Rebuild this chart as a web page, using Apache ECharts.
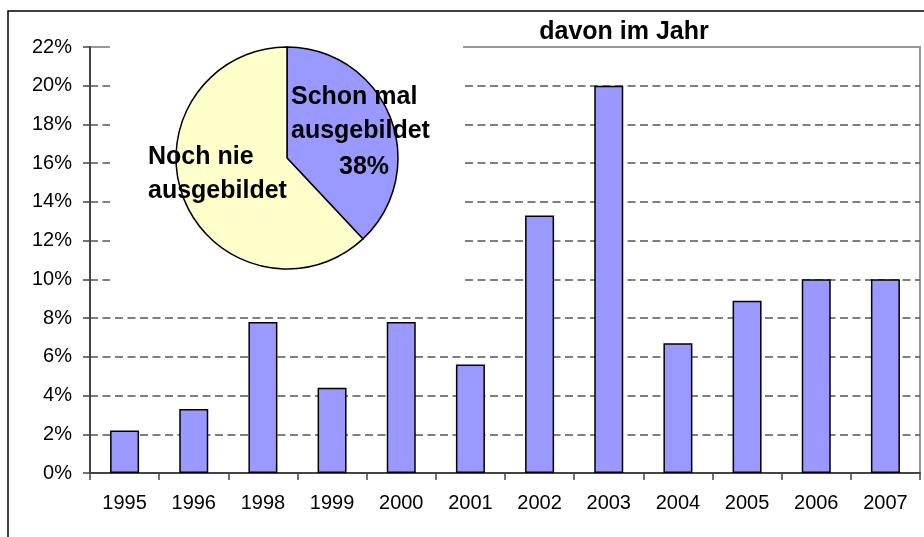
<!DOCTYPE html>
<html lang="de">
<head>
    <meta charset="UTF-8">
    <title>davon im Jahr</title>
    <script src="https://cdn.jsdelivr.net/npm/echarts@6/dist/echarts.min.js"></script>
    <style>
        html, body { margin: 0; padding: 0; background: #fff; }
    </style>
</head>
<body>
<!-- Container mit fester Größe für ECharts -->
<div id="main" style="width: 924px;height:537px;"></div>
<script type="text/javascript">
    // Jahre und Anteile (in %)
    var years = ['1995', '1996', '1998', '1999', '2000', '2001', '2002', '2003', '2004', '2005', '2006', '2007'];
    var shares = [2.2, 3.3, 7.8, 4.4, 7.8, 5.6, 13.3, 20, 6.7, 8.9, 10, 10];
    var yTicks = [0, 22, 2]; // min, max, interval

    // Kreisdiagramm
    var pieNames = ['Schon mal ausgebildet', 'Noch nie ausgebildet'];
    var pieValues = [38, 62];
    var pieColors = ['#9999ff', '#ffffcc'];

    var FONT = "'Liberation Sans', Arial, sans-serif";

    window.onload = function () {
        initMain();
    };

    function initMain() {
        var myChart = echarts.init(document.getElementById('main'));

        var pieData = [];
        for (var i = 0; i < pieNames.length; i++) {
            pieData.push({ name: pieNames[i], value: pieValues[i], itemStyle: { color: pieColors[i] } });
        }
        var schon = pieNames[0].split(' ');
        var noch = pieNames[1].split(' ');

        var boldText = function (text, x, y) {
            return {
                type: 'text', x: x, y: y, z: 10,
                style: { text: text, font: 'bold 25px ' + FONT, fill: '#000', align: 'left', verticalAlign: 'middle' }
            };
        };

        var option = {
            animation: false,
            backgroundColor: '#fff',
            textStyle: { fontFamily: FONT },
            title: {
                text: 'davon im Jahr',
                left: 619, top: 15, textAlign: 'center',
                textStyle: { fontSize: 25, fontWeight: 'bold', color: '#000', fontFamily: FONT }
            },
            grid: {
                left: 90, right: 4, top: 47, bottom: 64,
                show: true, borderColor: '#999', borderWidth: 2, backgroundColor: 'transparent'
            },
            xAxis: {
                type: 'category',
                data: years,
                axisLine: { lineStyle: { color: '#444', width: 2 } },
                axisTick: { show: true, length: 7, lineStyle: { color: '#444', width: 1.5 } },
                axisLabel: { color: '#000', fontSize: 20, margin: 20, fontFamily: FONT }
            },
            yAxis: {
                type: 'value',
                min: yTicks[0], max: yTicks[1], interval: yTicks[2],
                axisLine: { show: true, lineStyle: { color: '#444', width: 2 } },
                axisTick: { show: true, length: 7, lineStyle: { color: '#444', width: 1.5 } },
                axisLabel: { color: '#000', fontSize: 20, margin: 18, formatter: '{value}%', fontFamily: FONT },
                splitLine: {
                    show: true, showMinLine: false, showMaxLine: false,
                    lineStyle: { color: '#555', width: 1.5, type: [8, 4.5] }
                }
            },
            graphic: [
                // äußerer Rahmen
                { type: 'rect', z: 0, shape: { x: 8, y: 11, width: 1000, height: 1000 },
                  style: { fill: 'none', stroke: '#000', lineWidth: 1.5 } },
                // weiße Fläche hinter dem Kreisdiagramm
                { type: 'rect', z: 1, shape: { x: 110, y: 38, width: 353, height: 255 },
                  style: { fill: '#fff', stroke: 'none' } },
                boldText(schon[0] + ' ' + schon[1], 291, 97),
                boldText(schon[2], 291, 131),
                boldText(pieValues[0] + '%', 339, 167),
                boldText(noch[0] + ' ' + noch[1], 148, 157),
                boldText(noch[2], 148, 191)
            ],
            series: [
                {
                    name: 'Anteil',
                    type: 'bar',
                    data: shares,
                    barWidth: 29,
                    z: 2,
                    itemStyle: { color: '#9999ff', borderColor: '#000', borderWidth: 1.5 }
                },
                {
                    type: 'pie',
                    center: [287, 158],
                    radius: 111,
                    startAngle: 90,
                    clockwise: true,
                    z: 5,
                    label: { show: false },
                    labelLine: { show: false },
                    emphasis: { disabled: true },
                    itemStyle: { borderColor: '#000', borderWidth: 1.5 },
                    data: pieData
                }
            ]
        };

        myChart.setOption(option);
    }
</script>
</body>
</html>
